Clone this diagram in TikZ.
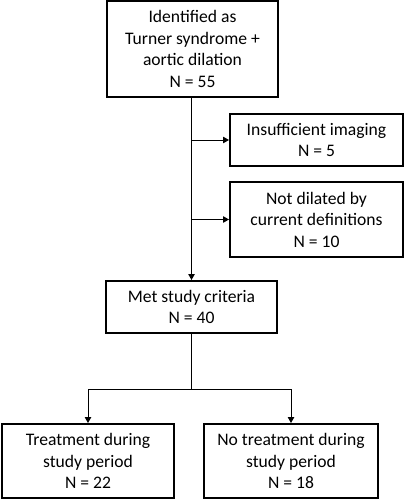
\documentclass[tikz,border=0pt]{standalone}
\usepackage{fontspec}
\setmainfont{Carlito}
\usetikzlibrary{arrows.meta}
\begin{document}
\begin{tikzpicture}[x=1pt,y=1pt,
  box/.style={draw=black,line width=2pt,rectangle,align=center,inner sep=0pt,
    font=\fontsize{17.6}{21.5}\selectfont},
  arr/.style={-{Triangle[length=6pt,width=6.5pt]},line width=1pt},
  ln/.style={line width=1pt}]
\useasboundingbox (0,0) rectangle (405,-500);
\node[box,minimum width=171pt,minimum height=96pt] (top) at (192.5,-49) {Identified as\\Turner syndrome +\\aortic dilation\\N = 55};
\node[box,minimum width=173pt,minimum height=52pt] (ins) at (316.5,-140) {Insufficient imaging\\N = 5};
\node[box,minimum width=173pt,minimum height=75pt] (notd) at (316.5,-219.5) {Not dilated by\\current definitions\\N = 10};
\node[box,minimum width=171pt,minimum height=52pt] (met) at (191.5,-307) {Met study criteria\\N = 40};
\node[box,minimum width=172pt,minimum height=74pt] (left) at (88,-461) {Treatment during\\study period\\N = 22};
\node[box,minimum width=174pt,minimum height=74pt] (right) at (291,-461) {No treatment during\\study period\\N = 18};
\coordinate (split) at (191.5,-389);
\draw[arr] (top.south -| met.north) -- (met.north);
\draw[arr] (ins.west -| met.north) -- (ins.west);
\draw[arr] (notd.west -| met.north) -- (notd.west);
\draw[ln] (met.south) -- (split);
\draw[arr] (split) -| (left.north);
\draw[arr] (split) -| (right.north);
\end{tikzpicture}
\end{document}
